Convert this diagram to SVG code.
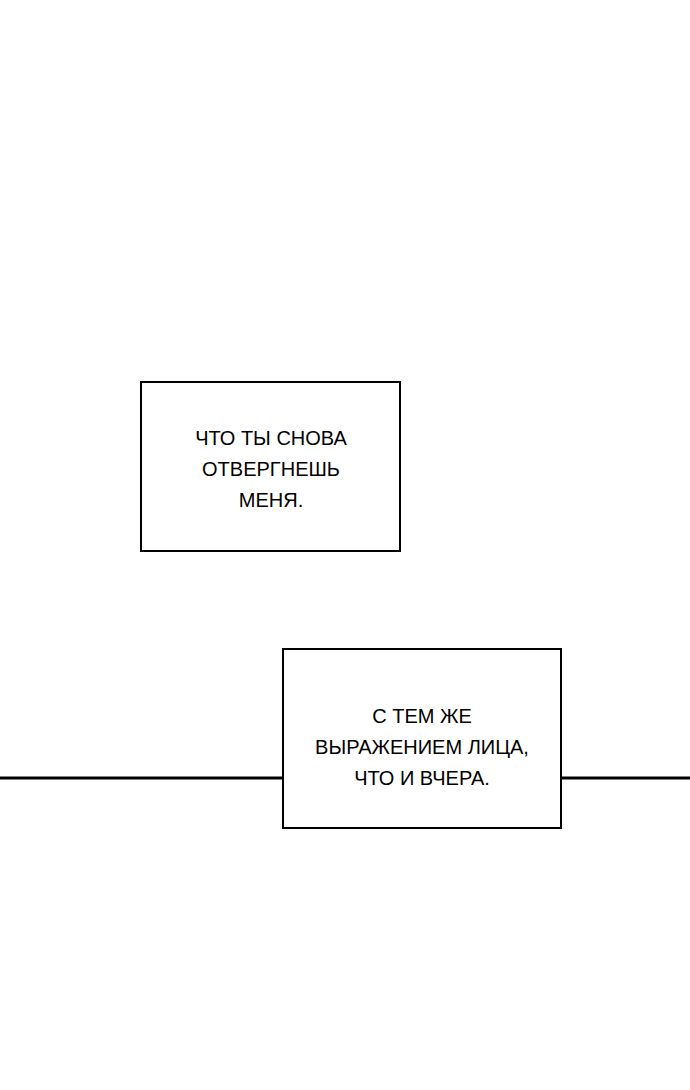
<svg xmlns="http://www.w3.org/2000/svg" width="690" height="1090" viewBox="0 0 690 1090">
<style>
.box{fill:#fff;stroke:#000;stroke-width:2}
.t{font-family:"Liberation Sans",sans-serif;font-size:20px;fill:#000;text-anchor:middle}
</style>
<rect width="690" height="1090" fill="#fff"/>
<g id="connectors">
<line x1="0" y1="778" x2="283" y2="778" stroke="#000" stroke-width="3"/>
<line x1="561" y1="778" x2="690" y2="778" stroke="#000" stroke-width="3"/>
</g>
<g id="box1">
<rect class="box" x="141" y="382" width="259" height="169"/>
<text class="t" x="271" y="445">ЧТО ТЫ СНОВА</text>
<text class="t" x="271" y="476">ОТВЕРГНЕШЬ</text>
<text class="t" x="271" y="507">МЕНЯ.</text>
</g>
<g id="box2">
<rect class="box" x="283" y="649" width="278" height="179"/>
<text class="t" x="422" y="723">С ТЕМ ЖЕ</text>
<text class="t" x="422" y="754">ВЫРАЖЕНИЕМ ЛИЦА,</text>
<text class="t" x="422" y="785">ЧТО И ВЧЕРА.</text>
</g>
</svg>
